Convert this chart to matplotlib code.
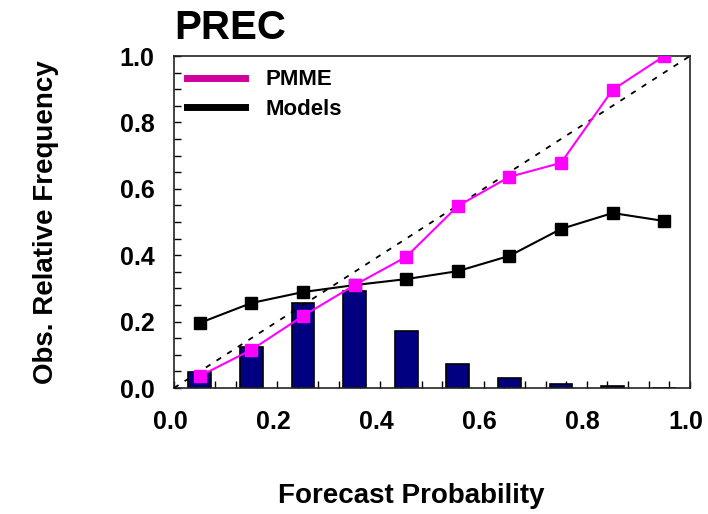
import numpy as np
import matplotlib.pyplot as plt
import matplotlib.transforms as mtransforms
from matplotlib.lines import Line2D

plt.rcParams['font.family'] = ['Liberation Sans', 'DejaVu Sans']
plt.rcParams['font.weight'] = 'bold'

# Data
prob = [0.05, 0.15, 0.25, 0.35, 0.45, 0.55, 0.65, 0.75, 0.85, 0.95]
pmme = [0.036, 0.115, 0.217, 0.310, 0.395, 0.548, 0.636, 0.678, 0.898, 1.0]
models = [0.196, 0.256, 0.289, 0.310, 0.328, 0.352, 0.398, 0.479, 0.527, 0.503]
freq = [0.048, 0.123, 0.256, 0.292, 0.172, 0.072, 0.030, 0.012, 0.005, 0.0]

fig = plt.figure(figsize=(7.08, 5.14), dpi=100)
ax = fig.add_axes([174 / 708, 1 - 388 / 514, 516 / 708, 332 / 514])

ax.bar(prob, freq, width=0.044, color='#000080', edgecolor='black', linewidth=1.2, zorder=2)
ax.plot([0, 1], [0, 1], color='black', linestyle=(0, (3, 4)), linewidth=1.3, zorder=3)
ax.plot(prob, models, color='black', linewidth=1.5, marker='s', markersize=8, zorder=4)
ax.plot(prob, pmme, color='#FF00FF', linewidth=1.5, marker='s', markersize=8, zorder=5)

ax.set_xlim(0, 1)
ax.set_ylim(0, 1)
ax.set_xticks(np.arange(0, 1.01, 0.2))
ax.set_yticks(np.arange(0, 1.01, 0.2))
ax.set_xticks(np.arange(0, 1.001, 0.04), minor=True)
ax.set_yticks(np.arange(0, 1.001, 0.05), minor=True)
ax.xaxis.set_major_formatter(plt.FormatStrFormatter('%.1f'))
ax.yaxis.set_major_formatter(plt.FormatStrFormatter('%.1f'))
ax.tick_params(which='both', direction='in', length=5, width=1, labelsize=18)
ax.tick_params(axis='x', pad=16)
ax.tick_params(axis='y', pad=14)
shift = mtransforms.ScaledTranslation(-0.04, 0, fig.dpi_scale_trans)
for lab in ax.get_xticklabels():
    lab.set_transform(lab.get_transform() + shift)
for s in ax.spines.values():
    s.set_linewidth(1.2)
    s.set_color('#222222')

ax.set_xlabel('Forecast Probability', fontsize=20, fontweight='bold')
ax.xaxis.set_label_coords(0.459, -0.285)
ax.set_ylabel('Obs. Relative Frequency', fontsize=20, fontweight='bold', labelpad=44)
fig.text(174 / 708, 1 - 28 / 514, 'PREC', fontsize=29, fontweight='bold', va='center', ha='left')

handles = [Line2D([], [], color='#D0009A', linewidth=5),
           Line2D([], [], color='black', linewidth=5)]
ax.legend(handles, ['PMME', 'Models'], loc='upper left', bbox_to_anchor=(0.0, 1.0),
          frameon=False, fontsize=16, handlelength=2.6, handletextpad=0.9,
          labelspacing=0.4, borderaxespad=0.2)

fig.savefig('out.png', dpi=100)
